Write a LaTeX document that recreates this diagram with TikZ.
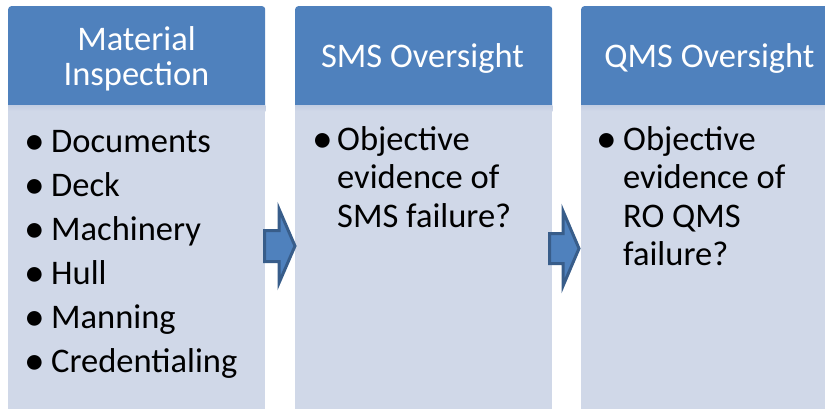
\documentclass[tikz,border=0pt]{standalone}
\usepackage{fontspec}
\setmainfont{Carlito}
\definecolor{hdr}{HTML}{4F81BD}
\definecolor{bdy}{HTML}{D0D8E8}
\definecolor{shd}{HTML}{C2CDE2}
\definecolor{arw}{HTML}{385D8A}
\newcommand{\bulmark}[1]{\makebox[16pt]{\raisebox{-2pt}{\scalebox{1.2}{\textbullet}}}\hspace{#1}}
\begin{document}
\begin{tikzpicture}[x=1pt,y=-1pt,
  hdrbox/.style={fill=hdr, draw=none, rounded corners=3pt, inner sep=0pt, anchor=north west, minimum width=257pt, minimum height=104pt},
  bodybox/.style={fill=bdy, draw=none, inner sep=0pt, anchor=north west, minimum width=257pt, minimum height=320pt},
  hdrtext/.style={text=white, inner sep=0pt, anchor=base, font=\fontsize{34.5}{35}\selectfont},
  listtext/.style={text=black, inner sep=0pt, anchor=base west},
  flowarrow/.style={fill=hdr, draw=arw, line width=3pt, line join=miter}]
\useasboundingbox (0,0) rectangle (825,408);
\clip (0,0) rectangle (825,408);
% headers
\node[hdrbox] (h1) at (8,6) {};
\node[hdrbox] (h2) at (295,6) {};
\node[hdrbox] (h3) at (581,6) {};
% bodies
\node[bodybox] (b1) at (8,105) {};
\node[bodybox] (b2) at (295,105) {};
\node[bodybox] (b3) at (581,105) {};
\shade[top color=shd, bottom color=bdy] (b1.north west) rectangle ([yshift=-6pt]b1.north east);
\shade[top color=shd, bottom color=bdy] (b2.north west) rectangle ([yshift=-6pt]b2.north east);
\shade[top color=shd, bottom color=bdy] (b3.north west) rectangle ([yshift=-6pt]b3.north east);
% header texts
\node[hdrtext] (t1) at (136.5,50) {\begin{tabular}[t]{@{}c@{}}Material\\Inspection\end{tabular}};
\node[hdrtext] (t2) at (422.5,67) {SMS Oversight};
\node[hdrtext] (t3) at (709.5,67) {QMS Oversight};
% body texts
\node[listtext, font=\fontsize{34.5}{44}\selectfont] (l1) at (27,152) {\begin{tabular}[t]{@{}l@{}}
\bulmark{8pt}Documents\\
\bulmark{8pt}Deck\\
\bulmark{8pt}Machinery\\
\bulmark{8pt}Hull\\
\bulmark{8pt}Manning\\
\bulmark{8pt}Credentialing\end{tabular}};
\node[listtext, font=\fontsize{34.5}{38.5}\selectfont] (l2) at (315,150) {\begin{tabular}[t]{@{}l@{}l@{}}
\bulmark{6pt} & Objective\\
 & evidence of\\
 & SMS failure?\end{tabular}};
\node[listtext, font=\fontsize{34.5}{38.5}\selectfont] (l3) at (599,150) {\begin{tabular}[t]{@{}l@{}l@{}}
\bulmark{8pt} & Objective\\
 & evidence of\\
 & RO QMS\\
 & failure?\end{tabular}};
% arrows
\draw[flowarrow] (264.5,230.5) -- (279,230.5) -- (279,209) -- (295,246) -- (279,283) -- (279,261.5) -- (264.5,261.5) -- cycle;
\draw[flowarrow] (549.5,233.5) -- (563,233.5) -- (563,211) -- (579,248.5) -- (563,286) -- (563,263.5) -- (549.5,263.5) -- cycle;
\end{tikzpicture}
\end{document}
